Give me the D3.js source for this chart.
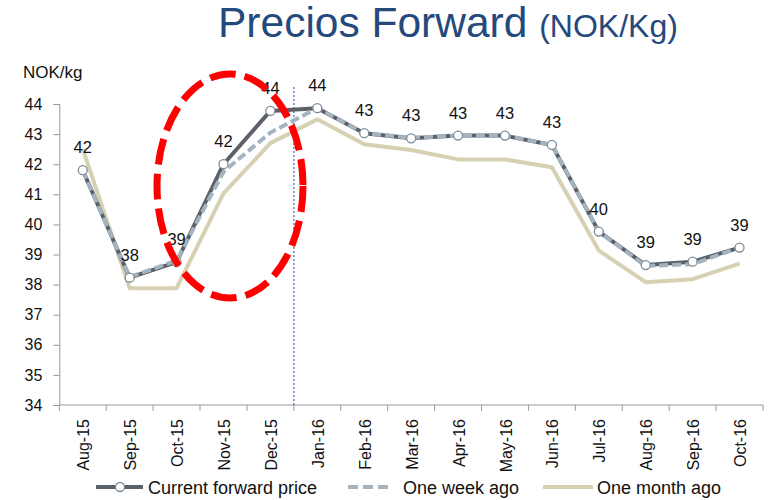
<!DOCTYPE html>
<html>
<head>
<meta charset="utf-8">
<script src="https://cdn.jsdelivr.net/npm/d3@7"></script>
<style>
  body { margin: 0; background: #fff; }
  text { font-family: "Liberation Sans", Arial, sans-serif; }
</style>
</head>
<body>
<svg id="chart" width="772" height="500"></svg>
<script>
// months on the x axis
const months = ["Aug-15", "Sep-15", "Oct-15", "Nov-15", "Dec-15", "Jan-16", "Feb-16", "Mar-16",
                "Apr-16", "May-16", "Jun-16", "Jul-16", "Aug-16", "Sep-16", "Oct-16"];
// NOK/kg
const currentPrice = [41.8, 38.23, 38.75, 42.0, 43.77, 43.86, 43.03, 42.86, 42.95, 42.95, 42.64, 39.76, 38.65, 38.76, 39.23];
const weekAgo      = [41.8, 38.25, 38.8, 41.75, 43.05, 43.86, 43.03, 42.88, 42.95, 42.95, 42.64, 39.76, 38.62, 38.68, 39.23];
const monthAgo     = [42.5, 37.88, 37.88, 41.03, 42.7, 43.49, 42.66, 42.47, 42.16, 42.16, 41.9, 39.13, 38.08, 38.18, 38.7];
const yTicks = [34, 35, 36, 37, 38, 39, 40, 41, 42, 43, 44];
const legendNames = ["Current forward price", "One week ago", "One month ago"];

const svg = d3.select("#chart");

// 坐标区域
const plotLeft = 59.3, plotRight = 763, plotTop = 104, plotBottom = 405;

const x = d3.scaleBand().domain(months).range([plotLeft, plotRight]).padding(0);
const y = d3.scaleLinear().domain([34, 44]).range([plotBottom, plotTop]);
const cx = m => x(m) + x.bandwidth() / 2;

// 标题
const title = svg.append("text")
    .attr("x", 218).attr("y", 37)
    .attr("fill", "#24497c");
title.append("tspan").attr("font-size", 42.5).text("Precios Forward ");
title.append("tspan").attr("font-size", 32).text("(NOK/Kg)");

svg.append("text")
    .attr("x", 23).attr("y", 78)
    .attr("font-size", 17)
    .attr("fill", "#111")
    .text("NOK/kg");

// y 轴
const yAxis = svg.append("g")
    .attr("transform", `translate(${plotLeft},0)`)
    .call(d3.axisLeft(y).tickValues(yTicks).tickSize(6).tickPadding(11).tickFormat(d3.format("d")));
yAxis.select(".domain").attr("stroke", "#999");
yAxis.selectAll(".tick line").attr("stroke", "#999");
yAxis.selectAll("text").attr("font-size", 16).attr("fill", "#111")
    .attr("font-family", "Liberation Sans, Arial, sans-serif");

// x 轴 (ticks on the category boundaries)
const boundaries = months.map(m => x(m)).concat([plotRight]);
const xAxis = svg.append("g");
xAxis.append("line")
    .attr("x1", plotLeft).attr("x2", plotRight)
    .attr("y1", plotBottom).attr("y2", plotBottom)
    .attr("stroke", "#999");
xAxis.selectAll(".bt").data(boundaries).enter().append("line")
    .attr("x1", d => d).attr("x2", d => d)
    .attr("y1", plotBottom).attr("y2", plotBottom + 6)
    .attr("stroke", "#999");
xAxis.selectAll(".xl").data(months).enter().append("text")
    .attr("transform", d => `translate(${cx(d) + 1},${plotBottom + 14}) rotate(-90)`)
    .attr("dy", "0.35em")
    .attr("text-anchor", "end")
    .attr("font-size", 16)
    .attr("fill", "#111")
    .text(d => d);

// 分隔虚线 between Dec-15 and Jan-16
svg.append("line")
    .attr("x1", x("Jan-16")).attr("x2", x("Jan-16"))
    .attr("y1", 87).attr("y2", plotBottom)
    .attr("stroke", "#4a74c4")
    .attr("stroke-width", 1.3)
    .attr("stroke-dasharray", "2,2");

const line = d3.line().x((d, i) => cx(months[i])).y(d => y(d));

svg.append("path").datum(monthAgo)
    .attr("d", line).attr("fill", "none")
    .attr("stroke", "#d6d1b3").attr("stroke-width", 4)
    .attr("stroke-linejoin", "round");

svg.append("path").datum(currentPrice)
    .attr("d", line).attr("fill", "none")
    .attr("stroke", "#5b6069").attr("stroke-width", 4)
    .attr("stroke-linejoin", "round");

svg.append("path").datum(weekAgo)
    .attr("d", line).attr("fill", "none")
    .attr("stroke", "#a3b3bf").attr("stroke-width", 4)
    .attr("stroke-dasharray", "9,4");

svg.selectAll(".pt").data(currentPrice).enter().append("circle")
    .attr("cx", (d, i) => cx(months[i]))
    .attr("cy", d => y(d))
    .attr("r", 4.5)
    .attr("fill", "#fff")
    .attr("stroke", "#7d8a97")
    .attr("stroke-width", 1.3);

// 数据标签
svg.selectAll(".lbl").data(currentPrice).enter().append("text")
    .attr("x", (d, i) => cx(months[i]))
    .attr("y", d => y(d) - 17)
    .attr("text-anchor", "middle")
    .attr("font-size", 16.5)
    .attr("fill", "#111")
    .text(d => d3.format(".0f")(d));

// 红色虚线椭圆
svg.append("ellipse")
    .attr("cx", 230).attr("cy", 186)
    .attr("rx", 73).attr("ry", 112)
    .attr("fill", "none")
    .attr("stroke", "#ff0000")
    .attr("stroke-width", 7)
    .attr("stroke-dasharray", "26,9");

// 图例
const legY = 487;
const leg = svg.append("g");
leg.append("line").attr("x1", 96).attr("x2", 143).attr("y1", legY).attr("y2", legY)
    .attr("stroke", "#5b6069").attr("stroke-width", 4);
leg.append("circle").attr("cx", 120).attr("cy", legY).attr("r", 4.5)
    .attr("fill", "#fff").attr("stroke", "#7d8a97").attr("stroke-width", 1.3);
leg.append("line").attr("x1", 348).attr("x2", 392).attr("y1", legY).attr("y2", legY)
    .attr("stroke", "#a3b3bf").attr("stroke-width", 4).attr("stroke-dasharray", "10,5");
leg.append("line").attr("x1", 543).attr("x2", 593).attr("y1", legY).attr("y2", legY)
    .attr("stroke", "#d6d1b3").attr("stroke-width", 4);
const legX = [148, 403, 597];
leg.selectAll(".lt").data(legendNames).enter().append("text")
    .attr("x", (d, i) => legX[i])
    .attr("y", legY + 6.5)
    .attr("font-size", 18)
    .attr("fill", "#111")
    .text(d => d);
</script>
</body>
</html>
